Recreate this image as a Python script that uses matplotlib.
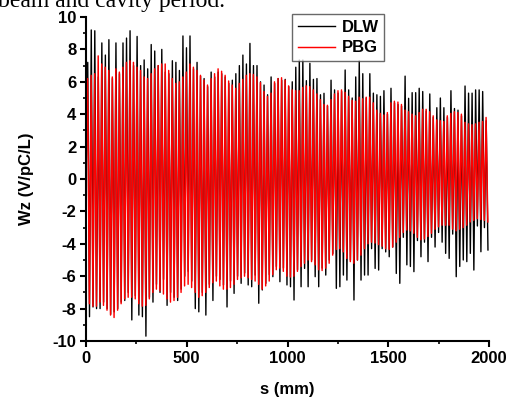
import numpy as np
import matplotlib
matplotlib.use("Agg")
import matplotlib.pyplot as plt
from matplotlib.ticker import MultipleLocator

# wake values, one value per oscillation
# peaks (maxima) and troughs (minima) for each structure
pbg_peaks = [6.2, 6.4, 6.5, 7.6, 7.1, 6.9, 6.7, 6.3, 6.8, 6.6, 6.9, 7.2, 7.3, 7.2, 6.9, 6.7,
             6.3, 6.2, 6.5, 6.8, 7.0, 7.1, 7.1, 6.7, 6.2, 5.9, 6.0, 6.3, 6.6, 7.1, 6.9, 6.7,
             6.4, 6.1, 5.8, 6.2, 6.5, 6.8, 6.65, 6.4, 6.05, 5.8, 5.6, 5.9, 6.15, 6.4, 6.5, 6.45,
             6.3, 5.95, 5.4, 5.1, 5.3, 6.0, 6.2, 6.25, 6.1, 5.75, 5.5, 5.45, 5.45, 5.65, 5.75, 5.7,
             5.5, 5.25, 4.9, 4.6, 4.55, 4.9, 5.25, 5.45, 5.5, 5.35, 5.1, 4.85, 4.8, 5.05,
             4.95, 5.05, 5.05, 4.7, 4.25, 4.05, 3.95, 4.1, 4.7, 4.8, 4.75, 4.6, 4.25, 4.15, 4.0, 3.9,
             4.1, 4.3, 4.3, 4.15, 3.9, 3.65, 3.6, 3.55, 3.9, 4.05, 4.15, 4.1, 4.0, 3.5, 3.4, 3.35,
             3.4, 3.5, 3.55, 3.8]
pbg_troughs = [-7.7, -7.85, -7.85, -7.6, -7.8, -8.1, -8.4, -8.55, -8.1, -7.7, -7.4, -7.3, -7.3, -7.4,
               -7.7, -7.85, -7.8, -7.4, -7.0, -6.8, -6.9, -7.1, -7.4, -7.6, -7.5, -7.3, -7.0, -6.6,
               -6.5, -6.7, -7.0, -7.3, -7.2, -7.0, -6.7, -6.4, -6.3, -6.6, -6.8, -6.8, -6.7, -6.5,
               -6.2, -6.1, -6.0, -6.1, -6.2,
               -6.3, -6.5, -6.8, -6.6, -6.3, -5.9, -5.6, -5.5, -5.7, -6.0, -6.05, -6.0, -5.7, -5.4,
               -5.2, -5.0, -5.1, -5.3, -5.6, -5.65, -5.5, -5.2, -4.7, -4.35, -4.3, -4.5, -4.9, -5.1,
               -5.2, -5.0, -4.7, -4.3, -4.0, -3.9, -3.95, -4.05, -4.15, -4.3, -4.35, -4.2, -3.9, -3.6,
               -3.3, -3.15, -3.2, -3.35, -3.6, -3.75, -3.7, -3.55, -3.35, -3.1, -2.95, -2.85, -2.85,
               -2.85, -3.1, -3.2, -3.1, -3.0, -2.85, -2.65, -2.55, -2.45, -2.5, -2.55, -2.65]
dlw_peaks = [7.2, 9.2, 9.15, 6.3, 8.4, 7.65, 8.6, 6.2, 8.4, 6.5, 8.4, 8.7, 9.15, 7.0, 8.8, 7.0,
             7.35, 6.8, 8.3, 7.9, 7.0, 8.0, 6.6, 6.5, 7.3, 7.2, 6.7, 8.83, 8.1, 8.83, 6.8, 7.2,
             6.35, 6.2, 5.7, 6.6, 6.3,
             6.6, 6.5, 6.3, 5.9, 6.1, 6.5, 7.0, 7.65, 7.1, 8.37, 7.0, 7.0, 6.0, 5.8, 5.2, 6.3,
             5.9, 6.2, 6.1, 6.15, 5.7, 6.0, 6.9, 7.35, 7.35, 6.07, 7.14, 6.15, 6.2, 5.2, 5.29, 4.5,
             6.1, 5.5, 5.3, 5.4, 6.73, 5.5, 5.0, 6.3, 7.3, 6.5, 5.0, 6.5, 5.3, 5.2, 5.1, 5.45,
             4.0, 5.6, 4.7, 4.6, 4.5, 6.35, 4.98, 5.33, 5.33, 5.6, 5.4, 4.2, 5.25, 3.8, 4.4, 5.0,
             4.4, 3.8, 5.45, 4.35, 4.25, 3.9, 5.74, 5.3, 5.3, 5.5, 5.5, 5.4, 3.6]
dlw_troughs = [-8.5, -7.9, -8.0, -8.0, -7.6, -8.0, -8.35, -8.2, -8.0, -7.6, -7.5, -7.0, -8.7, -7.2,
               -8.4, -8.5, -9.7, -7.3, -7.6, -6.5, -7.0, -6.2, -7.8, -7.0, -7.3, -7.5, -6.8, -6.0,
               -5.7, -6.3, -8.0, -8.2, -7.0, -8.4, -6.5, -7.5, -6.0, -6.2,
               -6.54, -7.9, -6.3, -7.06, -6.0, -6.44, -5.8, -6.54, -6.65, -5.93, -7.67, -6.85,
               -6.44, -5.9, -6.03, -5.4, -6.34, -5.5, -6.54, -6.65, -7.47, -5.6, -6.65, -5.52,
               -6.65, -5.0, -6.03, -6.65, -5.5, -5.93, -5.0, -4.6, -6.75, -6.65, -5.93, -6.24,
               -5.0, -7.47, -5.0, -6.24, -5.93, -5.93, -4.3, -5.52, -5.62, -4.3, -4.5, -4.8,
               -4.2, -5.83, -6.44, -3.6, -5.3, -5.4, -5.72, -3.8, -4.8, -3.9, -5.1, -3.6, -4.2,
               -3.3, -3.9, -4.59, -4.9, -3.4, -6.03, -5.4, -5.0, -5.1, -4.59, -5.62, -2.9, -4.49,
               -3.0, -4.38]

period = 17.5  # mm, one oscillation


def zigzag(peaks, troughs, shift):
    s = [0.0]
    w = [0.0]
    for i, (p, t) in enumerate(zip(peaks, troughs)):
        s.append(shift + period * i)
        w.append(p)
        s.append(shift + period * (i + 0.5))
        w.append(t)
    return np.array(s), np.array(w)


s_dlw, w_dlw = zigzag(dlw_peaks, dlw_troughs, 8.6)
s_pbg, w_pbg = zigzag(pbg_peaks, pbg_troughs, 8.0)

plt.rcParams['font.family'] = ['Liberation Sans', 'DejaVu Sans']
plt.rcParams['font.weight'] = 'bold'
plt.rcParams['axes.unicode_minus'] = False

fig = plt.figure(figsize=(5.08, 4.0), dpi=100)
ax = fig.add_axes([0.1693, 0.1475, 0.7933, 0.81])

ax.plot(s_dlw, w_dlw, color='black', linewidth=1.0, label='DLW')
ax.plot(s_pbg, w_pbg, color='#ff0000', linewidth=1.05, label='PBG')

ax.set_xlim(0, 2000)
ax.set_ylim(-10, 10)
ax.xaxis.set_major_locator(MultipleLocator(500))
ax.xaxis.set_minor_locator(MultipleLocator(250))
ax.yaxis.set_major_locator(MultipleLocator(2))
ax.yaxis.set_minor_locator(MultipleLocator(1))

for side in ['top', 'right']:
    ax.spines[side].set_visible(False)
for side in ['left', 'bottom']:
    ax.spines[side].set_linewidth(1.5)

ax.tick_params(which='major', direction='out', length=4, width=1.5, labelsize=12, pad=3)
ax.tick_params(which='minor', direction='out', length=2.5, width=1.2)
for lab in ax.get_xticklabels() + ax.get_yticklabels():
    lab.set_fontweight('bold')

ax.set_xlabel('s (mm)', fontsize=12, fontweight='bold', labelpad=12)
ax.set_ylabel('Wz (V/pC/L)', fontsize=12, fontweight='bold', labelpad=13)

leg = ax.legend(loc='upper left', bbox_to_anchor=(0.512, 1.01), fontsize=12,
                frameon=True, fancybox=False, handlelength=2.2, handletextpad=0.4,
                borderpad=0.35, labelspacing=0.35, borderaxespad=0)
leg.get_frame().set_edgecolor('#444444')
leg.get_frame().set_linewidth(1.0)
for t in leg.get_texts():
    t.set_fontweight('bold')

# caption text from the page above, cut off at the top edge
fig.text(-0.004, 0.983, 'beam and cavity period.', fontsize=17,
         family=['Liberation Serif', 'DejaVu Serif'], fontweight='normal',
         ha='left', va='baseline')

fig.savefig('out.png', dpi=100)
